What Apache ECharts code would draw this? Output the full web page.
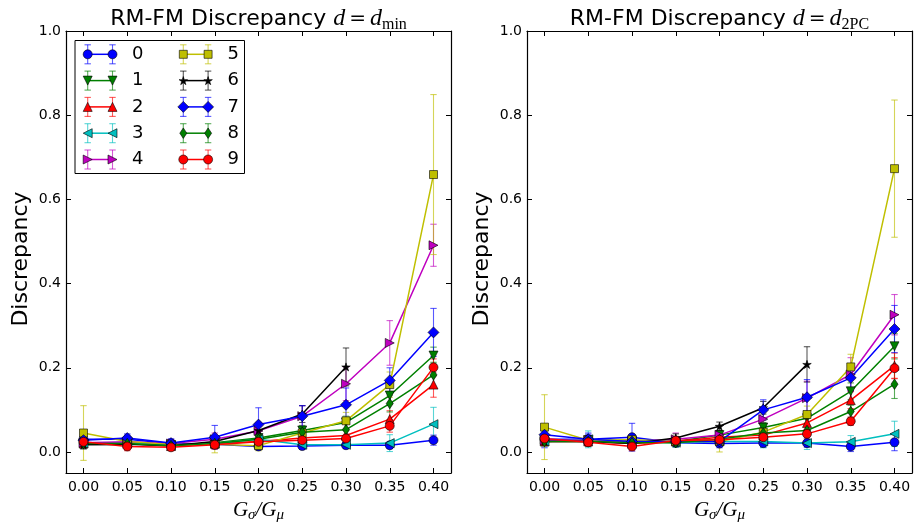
<!DOCTYPE html>
<html><head><meta charset="utf-8">
<script src="https://cdn.jsdelivr.net/npm/echarts@6/dist/echarts.min.js"></script>
<style>html,body{margin:0;padding:0;background:#fff}#c{width:916px;height:532px}</style>
</head><body><div id="c"></div>
<script>
// ---------------- data ----------------
const xValues = [0.00, 0.05, 0.10, 0.15, 0.20, 0.25, 0.30, 0.35, 0.40];
const xTicks = [0.00, 0.05, 0.10, 0.15, 0.20, 0.25, 0.30, 0.35, 0.40];
const yTicks = [0.0, 0.2, 0.4, 0.6, 0.8, 1.0];
const seriesNames = ['0','1','2','3','4','5','6','7','8','9'];
const seriesColors = ['#0000ff','#008000','#ff0000','#00bfbf','#bf00bf','#bfbf00','#000000','#0000ff','#008000','#ff0000'];
const seriesMarkers = ['circle','triDown','triUp','triLeft','triRight','square','star','diamond','thinDiamond','circle'];

// left panel: d = d_min  (means per series, null = missing)
const minMeans = [
  [0.030,0.030,0.020,0.018,0.013,0.014,0.016,0.016,0.028],
  [0.020,0.022,0.016,0.022,0.033,0.051,0.070,0.134,0.229],
  [0.020,0.020,0.014,0.020,0.025,0.033,0.039,0.078,0.160],
  [0.020,0.022,0.016,0.020,0.030,0.017,0.017,0.021,0.066],
  [0.022,0.024,0.020,0.030,0.050,0.085,0.162,0.259,0.491],
  [0.045,0.025,0.018,0.018,0.015,0.045,0.074,0.160,0.659],
  [0.017,0.018,0.015,0.025,0.051,0.090,0.202,null,null],
  [0.028,0.033,0.021,0.035,0.065,0.085,0.112,0.170,0.284],
  [0.020,0.020,0.015,0.020,0.030,0.047,0.053,0.115,0.183],
  [0.024,0.013,0.011,0.017,0.024,0.028,0.032,0.062,0.201]
];
const minErrs = [
  [0.015,0.010,0.010,0.010,0.008,0.008,0.008,0.008,0.012],
  [0.010,0.010,0.010,0.010,0.010,0.012,0.015,0.020,0.020],
  [0.010,0.010,0.010,0.010,0.010,0.010,0.012,0.020,0.030],
  [0.010,0.010,0.010,0.010,0.010,0.008,0.008,0.020,0.040],
  [0.010,0.010,0.010,0.015,0.020,0.025,0.040,0.053,0.050],
  [0.065,0.010,0.010,0.020,0.012,0.015,0.020,0.030,0.190],
  [0.010,0.010,0.010,0.010,0.012,0.020,0.045,null,null],
  [0.015,0.010,0.010,0.028,0.040,0.025,0.040,0.030,0.057],
  [0.010,0.010,0.010,0.010,0.010,0.012,0.015,0.020,0.030],
  [0.010,0.010,0.008,0.010,0.010,0.010,0.010,0.015,0.020]
];
// right panel: d = d_2PC
const pcMeans = [
  [0.030,0.030,0.035,0.022,0.020,0.021,0.021,0.013,0.023],
  [0.025,0.028,0.025,0.025,0.040,0.058,0.080,0.144,0.251],
  [0.025,0.025,0.020,0.025,0.035,0.040,0.069,0.123,0.205],
  [0.025,0.030,0.025,0.022,0.025,0.025,0.021,0.024,0.043],
  [0.028,0.028,0.025,0.030,0.040,0.078,0.128,0.184,0.326],
  [0.059,0.028,0.029,0.025,0.025,0.047,0.089,0.202,0.673],
  [0.025,0.025,0.020,0.033,0.061,0.105,0.208,null,null],
  [0.041,0.030,0.025,0.025,0.025,0.100,0.130,0.176,0.292],
  [0.025,0.025,0.022,0.022,0.030,0.045,0.051,0.096,0.161],
  [0.032,0.023,0.013,0.027,0.029,0.035,0.043,0.073,0.199]
];
const pcErrs = [
  [0.020,0.012,0.033,0.010,0.010,0.010,0.010,0.012,0.020],
  [0.010,0.010,0.010,0.010,0.010,0.012,0.015,0.020,0.030],
  [0.010,0.010,0.010,0.010,0.010,0.010,0.015,0.020,0.030],
  [0.010,0.020,0.010,0.010,0.010,0.015,0.015,0.015,0.030],
  [0.010,0.010,0.010,0.015,0.010,0.020,0.040,0.040,0.048],
  [0.077,0.010,0.010,0.010,0.025,0.015,0.020,0.030,0.163],
  [0.010,0.010,0.010,0.010,0.010,0.015,0.042,null,null],
  [0.015,0.015,0.010,0.010,0.010,0.024,0.042,0.030,0.056],
  [0.010,0.010,0.010,0.010,0.010,0.010,0.010,0.015,0.034],
  [0.010,0.010,0.010,0.010,0.010,0.010,0.010,0.010,0.025]
];

// ---------------- styling helpers ----------------
const markerPts = {
  triDown: [[-1,-1],[1,-1],[0,1]],
  triUp: [[0,-1],[1,1],[-1,1]],
  triLeft: [[-1,0],[1,-1],[1,1]],
  triRight: [[1,0],[-1,-1],[-1,1]],
  square: [[-1,-1],[1,-1],[1,1],[-1,1]],
  diamond: [[0,-1],[1,0],[0,1],[-1,0]],
  thinDiamond: [[0,-1],[0.6,0],[0,1],[-0.6,0]],
  star: [[0,-1],[0.2245,-0.309],[0.951,-0.309],[0.363,0.118],[0.588,0.809],[0,0.382],[-0.588,0.809],[-0.363,0.118],[-0.951,-0.309],[-0.2245,-0.309]]
};
const markerSizes = {circle:9, triDown:9, triUp:9, triLeft:9, triRight:9, square:8, diamond:11, thinDiamond:[7,10.5], star:8.5};
function symbolOf(m){
  if (m === 'circle') return 'circle';
  return 'path://M' + markerPts[m].map(p => p[0] + ',' + p[1]).join('L') + 'Z';
}
const edge = 'rgba(0,0,0,0.75)';

function errRender(color){
  return function(params, api){
    const x = api.value(0), y = api.value(1), e = api.value(2);
    const p1 = api.coord([x, y + e]), p2 = api.coord([x, y - e]);
    const cw = 3.2;
    const st = {stroke: color, lineWidth: 1.1, opacity: 0.65};
    return {type:'group', children:[
      {type:'line', shape:{x1:p1[0], y1:p1[1], x2:p2[0], y2:p2[1]}, style:st},
      {type:'line', shape:{x1:p1[0]-cw, y1:p1[1], x2:p1[0]+cw, y2:p1[1]}, style:st},
      {type:'line', shape:{x1:p2[0]-cw, y1:p2[1], x2:p2[0]+cw, y2:p2[1]}, style:st}
    ]};
  };
}

const series = [];
function addPanel(means, errs, xi, yi){
  for (let i = 0; i < seriesNames.length; i++){
    const pts = [], eb = [];
    xValues.forEach((x, k) => {
      if (means[i][k] !== null){ pts.push([x, means[i][k]]); eb.push([x, means[i][k], errs[i][k]]); }
    });
    const c = seriesColors[i];
    series.push({type:'custom', name: seriesNames[i], xAxisIndex: xi, yAxisIndex: yi,
      renderItem: errRender(c), encode:{x:0, y:1}, data: eb, z: 2, silent: true});
    series.push({type:'line', name: seriesNames[i], xAxisIndex: xi, yAxisIndex: yi, data: pts,
      symbol: symbolOf(seriesMarkers[i]), symbolSize: markerSizes[seriesMarkers[i]], symbolKeepAspect: seriesMarkers[i] !== 'thinDiamond',
      showAllSymbol: true, lineStyle:{color:c, width:1.5}, itemStyle:{color:c, borderColor:edge, borderWidth:0.8, opacity:1},
      z: 2, silent: true});
  }
}
addPanel(minMeans, minErrs, 0, 0);
addPanel(pcMeans, pcErrs, 2, 2);

function xAxisDef(grid, pos, labels){
  return {type:'value', gridIndex:grid, position:pos, min:-0.02, max:0.42,
    axisLine:{show:true, onZero:false, lineStyle:{color:'#000', width:1.2}}, splitLine:{show:false},
    axisTick:{show:true, inside:true, length:5, customValues:xTicks, lineStyle:{color:'#000', width:1}},
    axisLabel:{show:labels, customValues:xTicks, formatter:v=>v.toFixed(2), margin:7, color:'#000', fontSize:14, fontFamily:'DejaVu Sans'}};
}
function yAxisDef(grid, pos, labels){
  return {type:'value', gridIndex:grid, position:pos, min:-0.05, max:1.0,
    axisLine:{show:true, onZero:false, lineStyle:{color:'#000', width:1.2}}, splitLine:{show:false},
    axisTick:{show:true, inside:true, length:5, customValues:yTicks, lineStyle:{color:'#000', width:1}},
    axisLabel:{show:labels, customValues:yTicks, formatter:v=>v.toFixed(1), margin:5, color:'#000', fontSize:14, fontFamily:'DejaVu Sans'}};
}

// ---------------- legend & texts (graphic) ----------------
const graphics = [];
function titleText(cx, sub){
  return {type:'text', x:cx, y:19, z:100, style:{
    text:'{a|RM-FM Discrepancy }{m|d}{e|\u2009=\u2009}{m|d}{s|' + sub + '}',
    align:'center', verticalAlign:'middle',
    rich:{
      a:{fontFamily:'DejaVu Sans', fontSize:22, fill:'#000', lineHeight:28},
      m:{fontFamily:'Liberation Serif', fontStyle:'italic', fontSize:24, fill:'#000', lineHeight:28},
      e:{fontFamily:'DejaVu Sans', fontSize:20, fill:'#000', lineHeight:28},
      s:{fontFamily:'Liberation Serif', fontSize:16, fill:'#000', lineHeight:14, verticalAlign:'bottom'}
    }}};
}
graphics.push(titleText(258.5, 'min'));
graphics.push(titleText(719.5, '2PC'));
function xLabel(cx){
  return {type:'text', x:cx, y:510, z:100, style:{
    text:'{g|G}{s|σ}{g|/G}{s|μ}', align:'center', verticalAlign:'middle',
    rich:{
      g:{fontFamily:'Liberation Serif', fontStyle:'italic', fontSize:21, fill:'#000', lineHeight:26},
      s:{fontFamily:'Liberation Serif', fontStyle:'italic', fontSize:15, fill:'#000', lineHeight:14, verticalAlign:'bottom'}
    }}};
}
graphics.push(xLabel(258.5));
graphics.push(xLabel(719.5));
function yLabel(cx){
  return {type:'text', x:cx, y:259, rotation:Math.PI/2, z:100, style:{
    text:'Discrepancy', align:'center', verticalAlign:'middle', fontFamily:'DejaVu Sans', fontSize:22, fill:'#000'}};
}
graphics.push(yLabel(21));
graphics.push(yLabel(482));

// legend box
const leg = [];
leg.push({type:'rect', shape:{x:75, y:40.5, width:169.5, height:133}, style:{fill:'#fff', stroke:'#000', lineWidth:1}});
function legMarker(m, cx, cy, color){
  const st = {fill:color, stroke:edge, lineWidth:0.8};
  if (m === 'circle') return {type:'circle', shape:{cx:cx, cy:cy, r:4.5}, style:st};
  const s = markerSizes[m];
  const pts = markerPts[m];
  const xs = pts.map(p => p[0]), ys = pts.map(p => p[1]);
  const bw = Math.max(...xs) - Math.min(...xs), bh = Math.max(...ys) - Math.min(...ys);
  let sx, sy;
  if (Array.isArray(s)){ sx = s[0] / bw; sy = s[1] / bh; }
  else { const k = s / Math.max(bw, bh); sx = k; sy = k; }
  const mx = (Math.max(...xs) + Math.min(...xs)) / 2, my = (Math.max(...ys) + Math.min(...ys)) / 2;
  return {type:'polygon', shape:{points: pts.map(p => [cx + (p[0]-mx)*sx, cy + (p[1]-my)*sy])}, style:st};
}
seriesNames.forEach((nm, i) => {
  const col = Math.floor(i / 5), row = i % 5;
  const x1 = col === 0 ? 87.7 : 183.3, x2 = x1 + 24.8, cy = 54.3 + row * 26.3;
  const c = seriesColors[i];
  const eb = {stroke:c, lineWidth:1.1, opacity:0.65};
  [x1, x2].forEach(x => {
    leg.push({type:'line', shape:{x1:x, y1:cy-9.5, x2:x, y2:cy+9.5}, style:eb});
    leg.push({type:'line', shape:{x1:x-3.2, y1:cy-9.5, x2:x+3.2, y2:cy-9.5}, style:eb});
    leg.push({type:'line', shape:{x1:x-3.2, y1:cy+9.5, x2:x+3.2, y2:cy+9.5}, style:eb});
  });
  leg.push({type:'line', shape:{x1:x1, y1:cy, x2:x2, y2:cy}, style:{stroke:c, lineWidth:1.5}});
  leg.push(legMarker(seriesMarkers[i], x1, cy, c));
  leg.push(legMarker(seriesMarkers[i], x2, cy, c));
  leg.push({type:'text', x: x2 + 19.5, y: cy, style:{text:nm, fontFamily:'DejaVu Sans', fontSize:18, fill:'#000', verticalAlign:'middle', align:'left'}});
});
graphics.push({type:'group', z:200, children:leg});

const chart = echarts.init(document.getElementById('c'), null, {renderer:'canvas'});
chart.setOption({
  animation:false,
  backgroundColor:'#fff',
  grid:[
    {left:66, top:31, width:385, height:442, show:false, containLabel:false},
    {left:527, top:31, width:385, height:442, show:false, containLabel:false}
  ],
  xAxis:[xAxisDef(0,'bottom',true), xAxisDef(0,'top',false), xAxisDef(1,'bottom',true), xAxisDef(1,'top',false)],
  yAxis:[yAxisDef(0,'left',true), yAxisDef(0,'right',false), yAxisDef(1,'left',true), yAxisDef(1,'right',false)],
  series: series,
  graphic: graphics
});
</script></body></html>
